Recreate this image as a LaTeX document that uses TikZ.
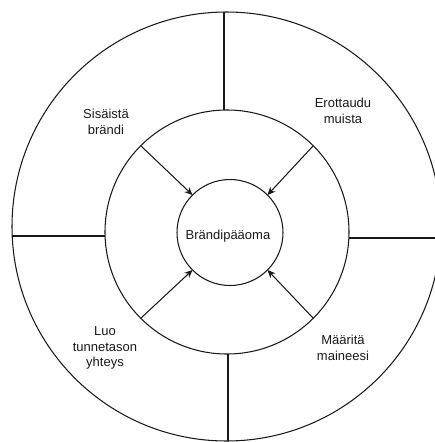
\documentclass[tikz,border=0pt]{standalone}
\usepackage{fontspec}
\setmainfont{Liberation Sans}
\usetikzlibrary{arrows.meta}
\begin{document}
\begin{tikzpicture}[x=1pt,y=-1pt,
  wire/.style={draw=black!90,line width=1.05pt},
  disc/.style={circle,wire,inner sep=0pt,outer sep=0pt,minimum size=#1},
  arr/.style={wire,-{Stealth[length=8pt,width=7pt]}},
  lbl/.style={font=\fontsize{13}{15.5}\selectfont,align=center,text=black!90}]
\useasboundingbox (0,0) rectangle (435,442);
% outer ring, cut off on the right
\begin{scope}
  \clip (0,0) rectangle (435,442);
  \node[disc=429pt] (outer) at (226.5,226.5) {};
\end{scope}
% middle ring and core
\node[disc=244pt] (ring) at (227,232) {};
\node[disc=106pt] (core) at (230,232.5) {};

% dividing spokes between the two rings
\coordinate (topA) at (224,12);
\coordinate (topB) at (224,110);
\coordinate (leftA) at (12.2,236);
\coordinate (leftB) at (105.1,236);
\coordinate (rightA) at (348.9,238);
\coordinate (rightB) at (436,238);
\coordinate (botA) at (228,354);
\coordinate (botB) at (228,441);
\draw[wire] (topA) -- (topB);
\draw[wire] (leftA) -- (leftB);
\draw[wire] (rightA) -- (rightB);
\draw[wire] (botA) -- (botB);

% arrows into the core
\draw[arr] (ring.135) -- (core.135);
\draw[arr] (ring.45) -- (core.45);
\draw[arr] (ring.225) -- (core.225);
\draw[arr] (ring.315) -- (core.315);

% labels
\node[lbl] (core label) at (228,236) {Brändipääoma};
\node[lbl] (q1) at (106,122) {Sisäistä\\brändi};
\node[lbl] (q2) at (343,111) {Erottaudu\\muista};
\node[lbl] (q3) at (105,348) {Luo\\tunnetason\\yhteys};
\node[lbl] (q4) at (343,348) {Määritä\\maineesi};
\end{tikzpicture}
\end{document}
